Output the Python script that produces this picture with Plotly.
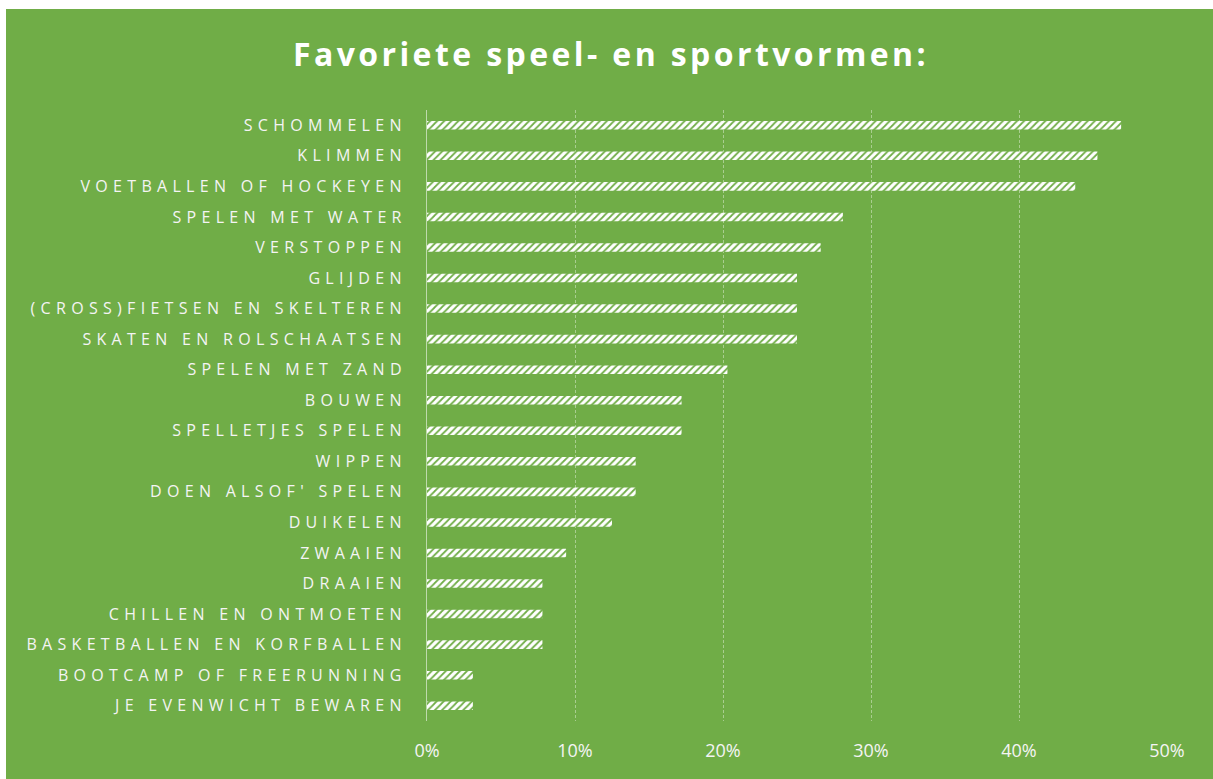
import plotly.graph_objects as go

# Data (share of respondents)
activities = [
    "SCHOMMELEN", "KLIMMEN", "VOETBALLEN OF HOCKEYEN", "SPELEN MET WATER",
    "VERSTOPPEN", "GLIJDEN", "(CROSS)FIETSEN EN SKELTEREN",
    "SKATEN EN ROLSCHAATSEN", "SPELEN MET ZAND", "BOUWEN",
    "SPELLETJES SPELEN", "WIPPEN", "DOEN ALSOF' SPELEN", "DUIKELEN",
    "ZWAAIEN", "DRAAIEN", "CHILLEN EN ONTMOETEN",
    "BASKETBALLEN EN KORFBALLEN", "BOOTCAMP OF FREERUNNING",
    "JE EVENWICHT BEWAREN",
]
shares = [
    0.469, 0.453, 0.438, 0.281, 0.266, 0.250, 0.250, 0.250, 0.203, 0.172,
    0.172, 0.141, 0.141, 0.125, 0.094, 0.078, 0.078, 0.078, 0.031, 0.031,
]
x_ticks = [0, 0.1, 0.2, 0.3, 0.4, 0.5]
x_ticklabels = ["0%", "10%", "20%", "30%", "40%", "50%"]

GREEN = "#70AD47"
W, H = 1213, 779
L, R, T, B = 427, 46, 110, 58
pw, ph = W - L - R, H - T - B

fig = go.Figure()

fig.add_trace(go.Bar(
    x=shares,
    y=activities,
    orientation="h",
    marker=dict(
        color="white",
        line=dict(width=0),
        pattern=dict(shape="/", fgcolor=GREEN, bgcolor="white",
                     size=5, solidity=0.35, fillmode="replace"),
    ),
    hovertemplate="%{y}: %{x:.1%}<extra></extra>",
))

# green panel, leaving a thin white strip top/left
fig.add_shape(
    type="rect", xref="paper", yref="paper", layer="below",
    x0=(6 - L) / pw, x1=(W - L) / pw,
    y0=-B / ph, y1=(H - B - 9) / ph,
    fillcolor=GREEN, line=dict(width=0),
)

fig.update_layout(
    width=W, height=H,
    margin=dict(l=L, r=R, t=T, b=B),
    paper_bgcolor="white",
    plot_bgcolor="rgba(0,0,0,0)",
    bargap=0.72,
    showlegend=False,
    font=dict(family="Open Sans", color="#F4F4F4"),
    title=dict(
        text="<b>Favoriete speel- en sportvormen:</b>",
        x=611 / W, xanchor="center",
        y=1 - 55 / H, yanchor="middle",
        font=dict(family="Open Sans", size=32, color="white"),
    ),
    xaxis=dict(
        range=[0, 0.5],
        tickvals=x_ticks, ticktext=x_ticklabels,
        showgrid=True, gridcolor="rgba(255,255,255,0.4)",
        griddash="3px,2px", gridwidth=1,
        zeroline=False, ticks="",
        ticklabelstandoff=17,
        tickfont=dict(size=18, color="#F4F4F4"),
    ),
    yaxis=dict(
        autorange="reversed",
        showgrid=False, ticks="",
        showline=True, linecolor="rgba(255,255,255,0.55)", linewidth=1,
        ticklabelstandoff=16,
        tickfont=dict(size=16, color="#F4F4F4"),
    ),
)

page_js = """
document.body.style.margin='0';
document.querySelectorAll('.ytick text').forEach(function(t){t.style.letterSpacing='5.3px';});
document.querySelectorAll('.gtitle').forEach(function(t){t.style.letterSpacing='3.4px';});
"""

fig.write_html("out.html", post_script=page_js,
               config={"displayModeBar": False})
